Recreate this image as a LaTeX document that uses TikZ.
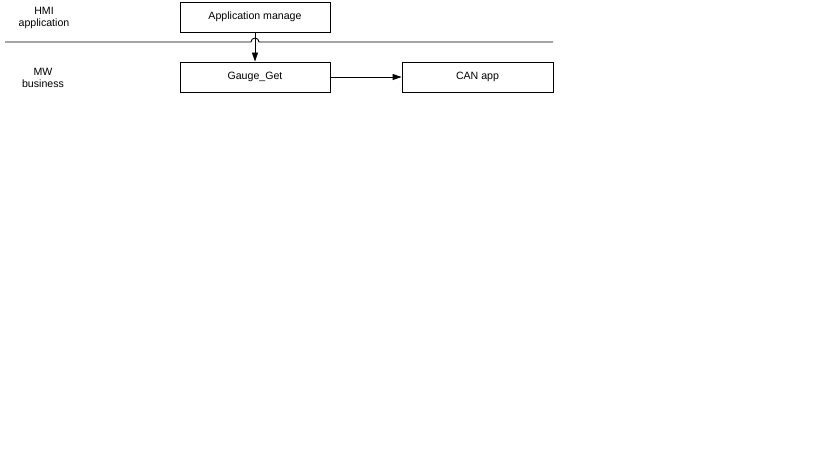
\documentclass[tikz,border=0pt]{standalone}
\usepackage{fontspec}
\setmainfont{Liberation Sans}
\usetikzlibrary{arrows.meta}
\begin{document}
\begin{tikzpicture}[x=1pt,y=-1pt,
  box/.style={draw,line width=0.9pt,minimum width=150pt,minimum height=30pt,inner sep=0pt,font=\fontsize{10.6}{12}\selectfont},
  lbl/.style={align=center,font=\fontsize{10.6}{12.5}\selectfont},
  conn/.style={line width=0.9pt,-{Triangle[length=9pt,width=6pt]}}]
\useasboundingbox (0,0) rectangle (819,460);
\node[box] (app) at (255,17) {Application manage};
\node[box] (gauge) at (255,77) {Gauge\_Get};
\node[box,minimum width=151pt] (can) at (477.5,77) {CAN app};
\node[lbl] (hmi) at (44,18) {HMI\\application};
\node[lbl] (mw) at (43,78) {MW\\business};
\coordinate (l0) at (5,42);
\coordinate (l1) at (553,42);
\draw[line width=0.9pt] (l0) -- (251,42) arc[start angle=180,end angle=360,radius=4] -- (l1);
\draw[conn] (app.south) -- (gauge.north);
\draw[conn] (gauge.east) -- (can.west);
\end{tikzpicture}
\end{document}
